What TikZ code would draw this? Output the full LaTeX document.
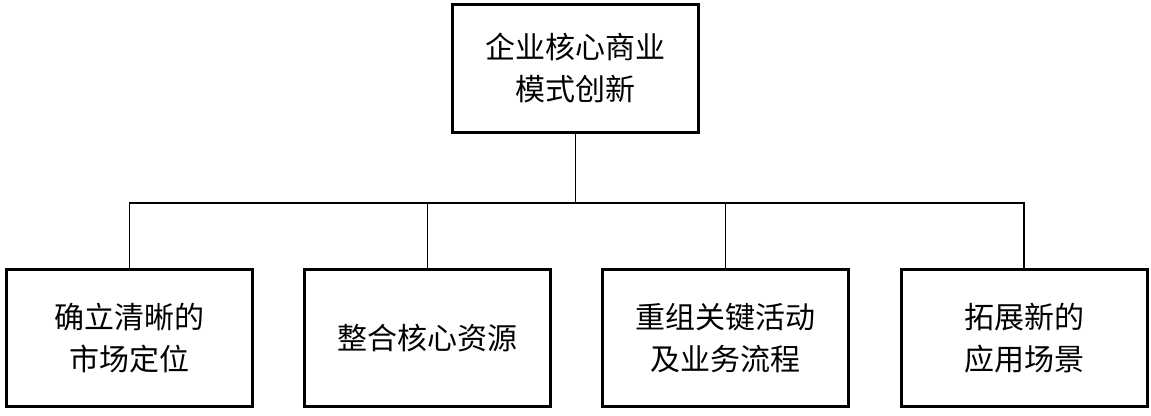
\documentclass[tikz,border=0pt]{standalone}
\usepackage{fontspec}
\newfontfamily\cjk{Noto Sans CJK SC}
\begin{document}
\begin{tikzpicture}[x=1pt,y=-1pt,
  box/.style={draw,line width=3pt,minimum width=246pt,minimum height=137pt,align=center,font=\cjk\fontsize{30}{42}\selectfont},
  conn/.style={line width=1.5pt}]
\useasboundingbox (0,0) rectangle (1151,415);
\node[box,minimum height=128pt] (top) at (575.5,68) {企业核心商业\\模式创新};
\node[box] (b1) at (129.5,338) {确立清晰的\\市场定位};
\node[box] (b2) at (427.5,338) {整合核心资源};
\node[box] (b3) at (725.5,338) {重组关键活动\\及业务流程};
\node[box] (b4) at (1024,338) {拓展新的\\应用场景};
\coordinate (j) at (575.5,203);
\draw[conn] (top.south) -- (j);
\draw[conn] (b1.north) |- (j);
\draw[conn] (b4.north) |- (j);
\draw[conn] (b2.north) -- (b2.north |- j);
\draw[conn] (b3.north) -- (b3.north |- j);
\end{tikzpicture}
\end{document}
